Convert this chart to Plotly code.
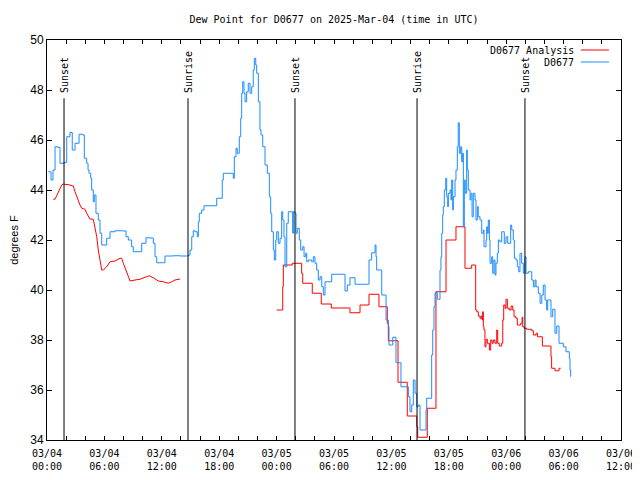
import pandas as pd
import plotly.graph_objects as go

BASE = pd.Timestamp("2025-03-04 00:00")

# D0677 observations: hours since 2025-03-04 00:00 UTC, dew point (F)
obs_hours = [0.14, 0.42, 0.63, 0.84, 1.15, 1.36, 1.78, 2.06, 2.40, 2.64, 2.93, 3.35, 3.76, 3.90, 4.15, 4.29,
             4.39, 4.57, 4.67, 4.84, 4.94, 5.12, 5.36, 5.54, 5.72, 5.96, 6.24, 6.59, 7.11, 7.98, 8.26, 8.50,
             8.85, 9.02, 9.62, 9.90, 10.35, 10.77, 11.11, 11.29, 11.47, 12.09, 12.33, 13.20, 13.90, 14.77,
             14.95, 15.13, 15.29, 15.47, 15.71, 15.82, 15.92, 16.17, 16.41, 17.74, 18.19, 18.32, 18.43, 19.13,
             19.47, 19.58, 19.76, 19.89, 20.10, 20.25, 20.35, 20.46, 20.59, 20.70, 20.87, 21.04, 21.22, 21.40,
             21.56, 21.67, 21.82, 21.92, 22.09, 22.26, 22.37, 22.55, 22.79, 23.03, 23.24, 23.38, 23.49, 23.66,
             23.76, 23.91, 24.01, 24.18, 24.36, 24.53, 24.64, 24.77, 24.88, 25.06, 25.22, 25.47, 25.68, 25.75,
             25.92, 26.03, 26.16, 26.37, 26.52, 26.73, 26.87, 27.04, 27.15, 27.31, 27.49, 27.67, 27.84, 28.01,
             28.19, 28.36, 28.54, 28.72, 28.88, 29.06, 29.76, 30.91, 31.15, 31.39, 31.67, 32.20, 33.59, 33.66,
             33.94, 34.29, 34.39, 34.46, 34.99, 35.44, 35.68, 35.75, 36.03, 36.14, 36.48, 37.00, 37.77, 37.94,
             38.12, 38.29, 38.47, 38.65, 38.81, 38.99, 39.62, 39.69, 40.21, 40.32, 40.45, 40.56, 40.80, 41.08,
             41.18, 41.26, 41.36, 41.42, 41.53, 41.68, 41.78, 41.89, 41.95, 42.13, 42.23, 42.30, 42.41, 42.47,
             42.65, 42.75, 42.89, 42.99, 43.10, 43.24, 43.35, 43.45, 43.52, 43.62, 43.72, 43.87, 43.93, 44.04,
             44.22, 44.32, 44.43, 44.56, 44.74, 44.84, 44.98, 45.08, 45.26, 45.44, 45.61, 45.68, 45.89, 45.96,
             46.03, 46.13, 46.24, 46.31, 46.48, 46.59, 46.72, 46.83, 46.93, 47.07, 47.18, 47.35, 47.53, 47.80,
             47.98, 48.16, 48.47, 48.58, 48.74, 48.85, 49.02, 49.16, 49.31, 49.44, 49.62, 49.79, 49.96, 50.07,
             50.31, 50.67, 50.84, 51.01, 51.12, 51.36, 51.54, 51.72, 51.88, 52.06, 52.23, 52.34, 52.68, 52.86,
             53.10, 53.28, 53.52, 53.97, 54.25, 54.60, 54.67, 54.74]
obs_dewpt = [44.73, 44.40, 44.80, 45.73, 45.70, 45.07, 45.10, 46.13, 46.30, 45.60, 45.87, 46.23, 46.20, 45.27, 45.07, 44.80,
             44.67, 44.47, 44.00, 43.53, 43.80, 43.07, 42.80, 42.27, 41.80, 41.80, 42.07, 42.33, 42.37, 42.36, 42.13, 42.00,
             41.73, 41.53, 41.53, 41.87, 42.09, 42.08, 41.87, 41.33, 41.09, 41.09, 41.36, 41.37, 41.36, 41.40,
             41.60, 42.13, 42.37, 42.33, 42.13, 42.73, 43.07, 43.20, 43.37, 43.67, 43.67, 44.40, 44.67, 44.67,
             44.47, 45.33, 45.67, 45.47, 46.13, 46.87, 47.87, 48.33, 47.87, 47.53, 47.93, 48.27, 47.87, 48.13,
             48.80, 49.27, 49.00, 48.67, 47.53, 46.40, 46.20, 45.73, 45.00, 44.67, 43.73, 43.07, 42.33, 41.60,
             41.20, 42.00, 42.33, 41.87, 42.07, 43.13, 42.80, 42.13, 40.93, 42.67, 43.13, 43.13, 42.27, 43.13,
             43.07, 42.27, 42.47, 42.00, 41.60, 41.73, 41.33, 41.47, 41.13, 41.20, 41.20, 41.13, 41.33, 41.07,
             40.80, 40.40, 40.53, 40.13, 39.80, 40.33, 40.63, 40.63, 39.96, 40.20, 40.49, 40.23, 40.23, 41.20,
             41.49, 41.80, 41.33, 40.80, 39.80, 38.80, 38.53, 37.80, 37.80, 38.11, 37.09, 36.13, 35.73, 35.13,
             35.40, 36.40, 35.87, 35.33, 35.40, 34.40, 35.20, 35.67, 37.40, 38.40, 39.33, 39.89, 39.63, 40.80,
             41.33, 42.27, 43.00, 43.33, 44.00, 44.47, 43.73, 43.33, 43.87, 44.00, 43.60, 44.40, 43.20, 43.73,
             44.40, 44.80, 45.73, 46.69, 45.47, 45.73, 45.13, 45.47, 42.53, 44.40, 43.87, 45.60, 44.80, 44.00,
             43.60, 43.87, 42.93, 43.87, 43.60, 42.80, 43.33, 42.93, 42.80, 42.27, 42.40, 41.73, 42.00, 42.53,
             42.27, 42.80, 42.00, 41.07, 41.33, 40.67, 41.20, 40.60, 41.07, 41.47, 42.00, 41.93, 42.33, 41.87,
             42.13, 41.87, 42.60, 42.40, 42.00, 41.27, 41.20, 40.93, 40.73, 41.47, 41.07, 40.67, 41.33, 40.67,
             40.73, 40.40, 40.13, 40.40, 40.13, 39.87, 39.47, 39.80, 40.20, 39.60, 39.20, 39.60, 38.93, 39.23,
             38.27, 38.56, 37.87, 37.73, 37.53, 37.27, 36.80, 36.53]

# D0677 Analysis, first day (hours since start, dew point F)
ana1_hours = [0.66, 0.84, 1.54, 1.70, 2.40, 2.75, 2.93, 3.10, 3.27, 3.45, 3.63, 3.97, 4.15, 4.49, 4.84, 5.02,
              5.20, 5.36, 5.54, 5.72, 5.88, 6.24, 6.59, 7.11, 7.63, 7.81, 7.98, 8.33, 8.68, 9.20, 9.72, 10.24,
              10.69, 11.11, 11.63, 12.16, 12.68, 13.03, 13.38, 13.90]
ana1_dewpt = [43.63, 43.63, 44.20, 44.24, 44.20, 44.16, 43.93, 43.73, 43.53, 43.40, 43.27, 43.23, 43.07, 42.84, 42.83, 42.53,
              42.13, 41.60, 41.20, 40.80, 40.80, 40.93, 41.13, 41.16, 41.27, 41.27, 41.07, 40.73, 40.36, 40.40, 40.43, 40.51,
              40.57, 40.49, 40.36, 40.33, 40.27, 40.33, 40.40, 40.44]

# D0677 Analysis, later part
ana2_hours = [24.01, 24.64, 24.70, 25.64, 26.62, 26.73, 27.73, 28.67, 29.72, 31.67, 32.72, 33.66, 34.70, 35.57,
              35.68, 36.69, 37.66, 38.65, 38.75, 39.75, 40.66, 41.71, 42.75, 43.69, 44.39, 44.81, 44.92, 45.08,
              45.26, 45.37, 45.47, 45.54, 45.61, 45.68, 45.78, 45.89, 46.03, 46.24, 46.38, 46.52, 46.65, 46.83,
              47.01, 47.11, 47.28, 47.53, 47.64, 47.74, 47.88, 47.98, 48.12, 48.33, 48.51, 48.68, 48.82, 49.02,
              49.16, 49.52, 49.66, 49.73, 49.87, 50.14, 50.67, 50.84, 51.12, 51.26, 51.78, 52.68, 52.75, 53.10,
              53.52, 53.70]
ana2_dewpt = [39.20, 40.13, 41.00, 41.07, 40.67, 40.27, 39.87, 39.44, 39.28, 39.09, 39.40, 39.83, 39.33, 38.67,
              37.97, 36.31, 34.96, 34.53, 34.11, 35.27, 39.93, 42.00, 42.53, 40.87, 41.00, 39.20, 39.13, 38.96,
              38.87, 38.96, 38.80, 39.13, 38.53, 38.40, 37.73, 38.03, 37.87, 37.60, 38.00, 37.87, 38.00, 37.87,
              38.40, 37.87, 37.76, 37.87, 38.80, 39.40, 39.27, 39.63, 39.27, 39.20, 39.36, 39.20, 38.93, 38.87,
              38.60, 38.67, 38.91, 38.53, 38.47, 38.43, 38.37, 38.20, 38.27, 38.13, 37.76, 37.33, 36.87, 36.77,
              36.87, 36.87]

# Sunrise / sunset events (hours since start)
sun_hours = [1.78, 14.74, 25.92, 38.68, 49.96]
sun_labels = ["Sunset", "Sunrise", "Sunset", "Sunrise", "Sunset"]

# Axis ticks
x_tick_hours = [0, 6, 12, 18, 24, 30, 36, 42, 48, 54, 60]
x_tick_text = ["03/04<br>00:00", "03/04<br>06:00", "03/04<br>12:00", "03/04<br>18:00",
               "03/05<br>00:00", "03/05<br>06:00", "03/05<br>12:00", "03/05<br>18:00",
               "03/06<br>00:00", "03/06<br>06:00", "03/06<br>12:00"]
y_ticks = [34, 36, 38, 40, 42, 44, 46, 48, 50]

RED = "#ff0000"
BLUE = "#1a8cff"
MONO = "DejaVu Sans Mono"
SANS = "Liberation Sans"

# The page places the figure 8 px from the window's top-left corner
W, H = 632, 472


def to_time(hours):
    return BASE + pd.to_timedelta(pd.Series(hours, dtype=float), unit="h")


fig = go.Figure()
fig.add_trace(go.Scatter(x=to_time(ana1_hours), y=ana1_dewpt, mode="lines",
                         line=dict(color=RED, width=1), name="D0677 Analysis", showlegend=False))
fig.add_trace(go.Scatter(x=to_time(ana2_hours), y=ana2_dewpt, mode="lines",
                         line=dict(color=RED, width=1, shape="hv"), name="D0677 Analysis", showlegend=False))
fig.add_trace(go.Scatter(x=to_time(obs_hours), y=obs_dewpt, mode="lines",
                         line=dict(color=BLUE, width=1, shape="hv"), name="D0677", showlegend=False))

sun_times = to_time(sun_hours)
for t, lab in zip(sun_times, sun_labels):
    fig.add_shape(type="line", xref="x", yref="y", x0=t, x1=t, y0=34, y1=47.67,
                  line=dict(color="black", width=1))
    fig.add_annotation(x=t, y=47.8, xref="x", yref="y", text=lab, textangle=-90,
                       showarrow=False, xanchor="center", yanchor="bottom",
                       font=dict(family=MONO, size=10, color="black"))

# gnuplot-style key: text right-aligned, sample line on the right
key = [("D0677 Analysis", RED, 0.975), ("D0677", BLUE, 0.945)]
for txt, col, yy in key:
    fig.add_annotation(x=0.921, y=yy, xref="paper", yref="paper", text=txt, showarrow=False,
                       xanchor="right", yanchor="middle", font=dict(family=MONO, size=10, color="black"))
    fig.add_shape(type="line", xref="paper", yref="paper", x0=0.930, x1=0.979, y0=yy, y1=yy,
                  line=dict(color=col, width=1))

fig.update_layout(
    width=W, height=H,
    margin=dict(l=39, r=19, t=32, b=40, autoexpand=False),
    paper_bgcolor="white", plot_bgcolor="white",
    showlegend=False,
    title=dict(text="Dew Point for D0677 on 2025-Mar-04 (time in UTC)", x=0.5, xref="paper",
               y=1 - 11 / H, yanchor="middle", font=dict(family=MONO, size=10, color="black")),
)
fig.update_xaxes(
    type="date", range=[BASE, BASE + pd.Timedelta(hours=60)], automargin=False,
    tickvals=list(to_time(x_tick_hours)), ticktext=x_tick_text,
    ticks="inside", ticklen=4, tickcolor="black", showline=True, linecolor="black", linewidth=1,
    mirror="ticks", showgrid=False, zeroline=False, ticklabelstandoff=4,
    minor=dict(ticks="inside", ticklen=4, tickcolor="black", dtick=2 * 3600 * 1000,
               tick0=BASE, showgrid=False),
    tickfont=dict(family=MONO, size=10, color="black"),
)
fig.update_yaxes(
    range=[34, 50], tickvals=y_ticks, ticks="inside", ticklen=5, tickcolor="black", automargin=False,
    showline=True, linecolor="black", linewidth=1, mirror="ticks", showgrid=False, zeroline=False,
    tickfont=dict(family=SANS, size=12, color="black"),
    title=dict(text="degrees F", font=dict(family=SANS, size=11, color="black"), standoff=18),
)

fig.write_html("out.html")
